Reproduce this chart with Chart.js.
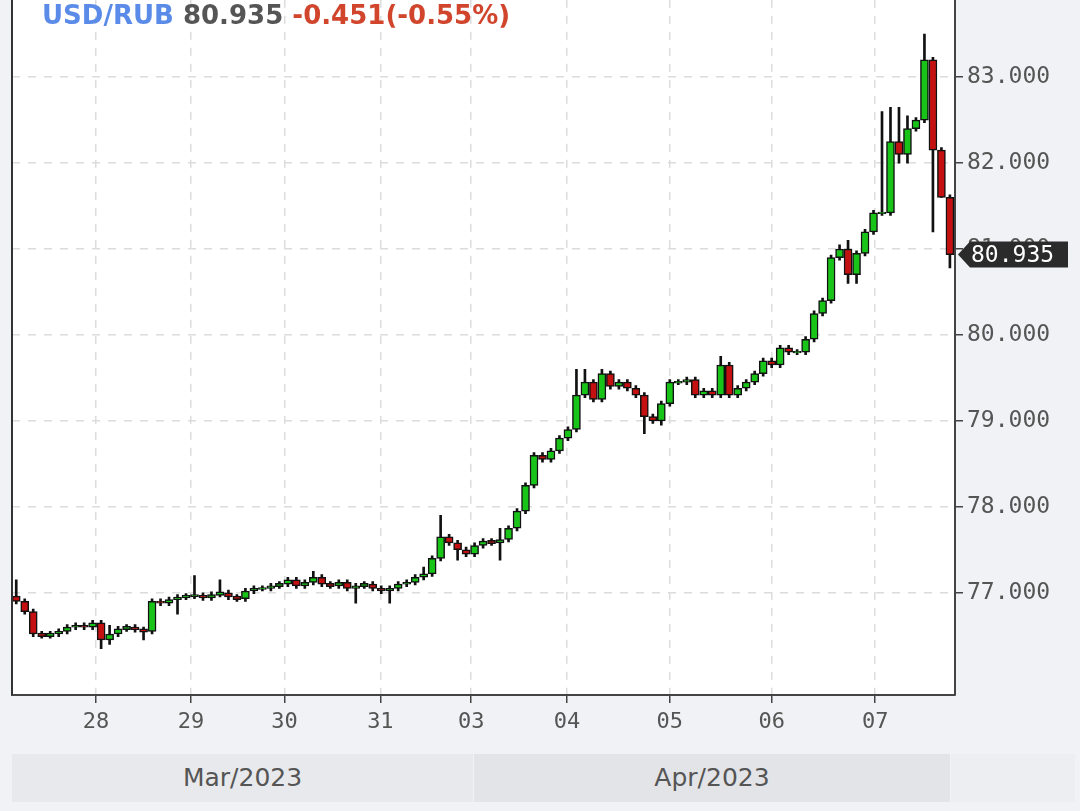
<!DOCTYPE html>
<html><head><meta charset="utf-8">
<script src="https://cdn.jsdelivr.net/npm/chart.js@4"></script>
<style>
body{margin:0;background:#f1f2f5;font-family:"DejaVu Sans",sans-serif;overflow:hidden;}
#wrap{position:relative;width:1080px;height:811px;overflow:hidden;}
#cv{position:absolute;left:0;top:-18px;}
#head{position:absolute;left:42px;top:0px;font-weight:bold;font-size:26px;}
.mon{position:absolute;top:754px;height:48px;background:#e8e9ec;color:#555;font-size:25px;text-align:center;line-height:48px;}
</style></head><body>
<div id="wrap">
<canvas id="cv" width="1080" height="763"></canvas>
<div id="head"><span style="color:#5a8be8">USD/RUB</span> <span style="color:#555">80.935</span> <span style="color:#d0452c">-0.451(-0.55%)</span></div>
<div class="mon" style="left:12px;width:461px;">Mar/2023</div>
<div class="mon" style="left:474px;width:476px;background:#e3e4e7;">Apr/2023</div>
<div class="mon" style="left:951px;width:124px;background:#eceef1;"></div>
</div>
<script>
// closes per candle
var closes = [
 76.90,76.78,76.52,76.50,76.52,76.55,76.60,76.62,76.60,76.65,
 76.45,76.52,76.58,76.60,76.57,76.55,76.90,76.88,76.92,76.95,76.96,
 76.97,76.94,76.98,77.00,76.95,76.93,77.02,77.05,77.05,77.08,77.10,
 77.15,77.08,77.12,77.18,77.10,77.08,77.12,77.05,77.08,77.10,77.05,
 77.02,77.05,77.10,77.12,77.18,77.22,77.40,77.65,77.58,77.50,77.45,
 77.55,77.60,77.58,77.62,77.75,77.95,78.25,78.60,78.55,78.65,78.80,
 78.90,79.30,79.45,79.25,79.55,79.40,79.45,79.38,79.30,79.05,79.00,79.20,
 79.45,79.45,79.48,79.30,79.35,79.30,79.65,79.30,79.38,79.45,79.55,79.70,
 79.65,79.85,79.80,79.80,79.95,80.25,80.40,80.90,81.00,80.70,80.95,81.20,
 81.42,81.42,82.25,82.10,82.40,82.50,83.20,82.15,81.60,80.935
];
var firstOpen = 76.96;
// visible long wicks: index -> value
var highs = {0:77.15,11:76.62,21:77.2,24:77.15,35:77.25,48:77.3,50:77.9,57:77.75,66:79.6,67:79.6,69:79.6,83:79.75,
  97:81.05,98:81.1,102:82.6,103:82.65,104:82.65,105:82.55,107:83.5};
var lows = {10:76.35,11:76.4,15:76.45,19:76.75,40:76.88,44:76.88,52:77.38,57:77.38,74:78.85,76:78.95,
  98:80.6,99:80.6,104:82.0,105:82.0,108:81.2,109:81.6,110:80.78};
var dayTicks = [9.4,20.6,31.6,42.9,53.6,64.9,77,89,101.2];
var dayLabels = ['28','29','30','31','03','04','05','06','07'];
var yTicks = [77,78,79,80,81,82,83];
var lastPrice = 80.935;

var bodies=[], wicks=[], fills=[];
closes.forEach(function(c,i){
  var o = i==0 ? firstOpen : closes[i-1];
  var hi = highs[i]!==undefined ? highs[i] : Math.max(o,c)+0.03;
  var lo = lows[i]!==undefined ? lows[i] : Math.min(o,c)-0.03;
  var b0=Math.min(o,c), b1=Math.max(o,c);
  if(b1-b0<0.02){b1+=0.01;b0-=0.01;}
  bodies.push({x:i,y:[b0,b1]});
  wicks.push({x:i,y:[lo,hi]});
  fills.push(c>=o ? '#19c419' : '#c41010');
});

var priceTag = {
  id:'priceTag',
  afterDraw:function(chart){
    var ctx=chart.ctx, y=chart.scales.y.getPixelForValue(lastPrice), x=chart.chartArea.right;
    ctx.save();
    ctx.fillStyle='#2b2b2b';
    ctx.beginPath();
    ctx.moveTo(x+3,y);ctx.lineTo(x+15,y-13);ctx.lineTo(x+113,y-13);ctx.lineTo(x+113,y+13);ctx.lineTo(x+15,y+13);ctx.closePath();ctx.fill();
    ctx.fillStyle='#fff';ctx.font='23px "DejaVu Sans Mono", monospace';ctx.textBaseline='middle';
    ctx.fillText('80.935',x+16,y+1);
    ctx.strokeStyle='#333';ctx.lineWidth=2;
    ctx.beginPath();ctx.moveTo(chart.chartArea.left,0);ctx.lineTo(chart.chartArea.left,chart.chartArea.bottom);ctx.stroke();
    ctx.restore();
  },
  beforeDraw:function(chart){
    var a=chart.chartArea, ctx=chart.ctx;
    ctx.save();ctx.fillStyle='#fff';ctx.fillRect(a.left,0,a.right-a.left,a.bottom);ctx.restore();
  }
};

new Chart(document.getElementById('cv'),{
  type:'bar',
  data:{datasets:[
    {data:bodies,backgroundColor:fills,borderColor:'#111',borderWidth:1.5,borderSkipped:false,barThickness:8,grouped:false,order:1},
    {data:wicks,backgroundColor:'#111',barThickness:2,grouped:false,order:2}
  ]},
  plugins:[priceTag],
  options:{
    responsive:false,animation:false,
    layout:{padding:{left:12,top:0,right:0,bottom:0}},
    plugins:{legend:{display:false},tooltip:{enabled:false}},
    scales:{
      x:{type:'linear',min:-0.5,max:110.6,offset:false,
        afterBuildTicks:function(s){s.ticks=dayTicks.map(function(v){return {value:v};});},
        afterFit:function(s){s.height=50;},
        ticks:{autoSkip:false,maxRotation:0,color:'#555',font:{size:22,family:'DejaVu Sans Mono'},padding:6,
          callback:function(v){var k=dayTicks.indexOf(v);return k<0?'':dayLabels[k];}},
        grid:{offset:false,color:'#dcdcdc',lineWidth:1.5,tickLength:8,tickColor:'#444'},
        border:{color:'#444',width:2,dash:[8,8]}},
      y:{position:'right',min:75.81,max:83.9,
        afterBuildTicks:function(s){s.ticks=yTicks.map(function(v){return {value:v};});},
        afterFit:function(s){s.width=125;},
        ticks:{color:'#555',font:{size:23,family:'DejaVu Sans Mono'},padding:4,callback:function(v){return v.toFixed(3);}},
        grid:{color:'#dcdcdc',lineWidth:1.5,tickLength:8,tickColor:'#444'},
        border:{color:'#444',width:2,dash:[8,8]}}
    }
  }
});
</script>
</body></html>
